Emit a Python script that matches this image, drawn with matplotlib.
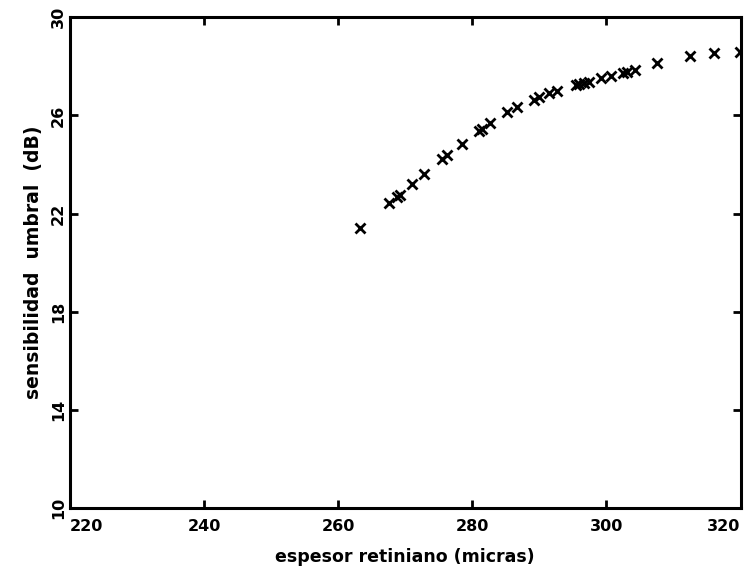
import numpy as np
import matplotlib
matplotlib.use('Agg')
import matplotlib.pyplot as plt

# espesor retiniano (micras) vs sensibilidad umbral (dB)
espesor = [263.2, 267.5, 268.7, 269.2, 271.0, 272.8, 275.5, 276.2, 278.4,
           281.0, 281.4, 282.6, 285.2, 286.7, 289.2, 290.0, 291.4, 292.6,
           295.5, 295.9, 296.7, 297.4, 299.2, 300.7, 302.4, 303.1, 304.2,
           307.6, 312.4, 316.1, 319.9]
sensibilidad = [21.40, 22.42, 22.67, 22.75, 23.20, 23.61, 24.22, 24.38, 24.83,
                25.37, 25.45, 25.70, 26.14, 26.35, 26.63, 26.76, 26.92, 27.00,
                27.25, 27.29, 27.33, 27.37, 27.53, 27.61, 27.74, 27.78, 27.86,
                28.14, 28.43, 28.55, 28.59]

xticks = [220, 240, 260, 280, 300, 320]
yticks = [10, 14, 18, 22, 26, 30]

plt.rcParams['font.family'] = ['DejaVu Sans']
plt.rcParams['font.weight'] = 'bold'

fig = plt.figure(figsize=(7.56, 5.73), dpi=100)
ax = fig.add_axes([0.0926, 0.113, 0.887, 0.857])

ax.plot(espesor, sensibilidad, 'x', color='black', markersize=7, mew=2)

ax.set_xlim(220, 320)
ax.set_ylim(10, 30)
ax.set_xticks(xticks)
ax.set_yticks(yticks)
ax.set_xticklabels([str(t) for t in xticks], fontsize=11.5, fontweight='bold')
ax.set_yticklabels([str(t) for t in yticks], fontsize=11.5, fontweight='bold',
                   rotation=90, va='center')
labs = ax.get_xticklabels()
labs[0].set_ha('left')
labs[-1].set_ha('right')

ax.tick_params(axis='x', pad=8)
ax.tick_params(axis='y', pad=3)
ax.tick_params(direction='in', length=6, width=2, top=True, right=True)
for sp in ax.spines.values():
    sp.set_linewidth(2.2)

ax.set_xlabel('espesor retiniano (micras)', fontsize=12.5, fontweight='bold', labelpad=10)
ax.set_ylabel('sensibilidad  umbral  (dB)', fontsize=13.5, fontweight='bold', labelpad=6)

fig.savefig('out.png', dpi=100)
